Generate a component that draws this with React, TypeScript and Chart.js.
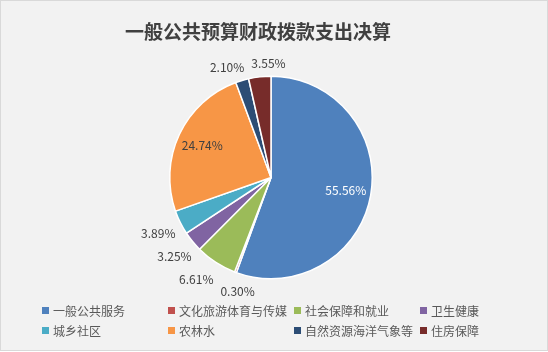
import React, { useEffect, useRef } from "react";
import { Chart, registerables } from "chart.js";

Chart.register(...registerables);

const TITLE = "一般公共预算财政拨款支出决算";
const CATEGORIES = [
  "一般公共服务",
  "文化旅游体育与传媒",
  "社会保障和就业",
  "卫生健康",
  "城乡社区",
  "农林水",
  "自然资源海洋气象等",
  "住房保障",
];
const VALUES = [55.56, 0.3, 6.61, 3.25, 3.89, 24.74, 2.1, 3.55];
const COLORS = [
  "#4F81BD",
  "#C0504D",
  "#9BBB59",
  "#8064A2",
  "#4BACC6",
  "#F79646",
  "#2C4D75",
  "#772C2A",
];
const INSIDE = [true, false, false, false, false, true, false, false];

const FONT = '"Noto Sans CJK SC", "Noto Sans", sans-serif';

const overlayPlugin = {
  id: "overlay",
  afterDatasetsDraw(chart: any) {
    const ctx = chart.ctx;
    const meta = chart.getDatasetMeta(0);
    ctx.save();
    ctx.font = `12px ${FONT}`;
    ctx.textBaseline = "middle";
    ctx.textAlign = "center";
    const total = VALUES.reduce((a, b) => a + b, 0);
    const labels: any[] = [];
    meta.data.forEach((arc: any, i: number) => {
      const { x, y, startAngle, endAngle, outerRadius } = arc.getProps(
        ["x", "y", "startAngle", "endAngle", "outerRadius"],
        true
      );
      const mid = (startAngle + endAngle) / 2;
      const c = Math.cos(mid);
      const s = Math.sin(mid);
      const text = ((VALUES[i] / total) * 100).toFixed(2) + "%";
      const w = ctx.measureText(text).width;
      let lx, ly, color;
      if (INSIDE[i]) {
        lx = x + c * outerRadius * 0.75;
        ly = y + s * outerRadius * 0.75;
        color = i === 0 ? "#FFFFFF" : "#404040";
      } else {
        const d = outerRadius + 7 + (w / 2) * Math.abs(c) + 5 * Math.abs(s);
        lx = x + c * d;
        ly = y + s * d;
        color = "#404040";
      }
      labels.push({ text, x: lx, y: ly, w, color, inside: INSIDE[i] });
    });
    // resolve overlaps between outside labels by pushing apart horizontally
    const out = labels.filter((l) => !l.inside);
    for (let a = 0; a < out.length; a++) {
      for (let b = a + 1; b < out.length; b++) {
        const A = out[a];
        const B = out[b];
        if (Math.abs(A.y - B.y) < 14) {
          const need = (A.w + B.w) / 2 + 7;
          const dx = B.x - A.x;
          if (Math.abs(dx) < need) {
            const shift = (need - Math.abs(dx)) / 2;
            const sign = dx >= 0 ? 1 : -1;
            A.x -= sign * shift;
            B.x += sign * shift;
            A.y += 3;
          }
        }
      }
    }
    labels.forEach((l) => {
      ctx.fillStyle = l.color;
      ctx.fillText(l.text, l.x, l.y);
    });

    // title
    ctx.font = `bold 19px ${FONT}`;
    ctx.fillStyle = "#404040";
    ctx.textAlign = "center";
    ctx.fillText(TITLE, 258, 32);

    // legend
    ctx.font = `12px ${FONT}`;
    ctx.textAlign = "left";
    const colX = [42, 168, 294, 420];
    const rowY = [311, 331];
    CATEGORIES.forEach((label, i) => {
      const cx = colX[i % 4];
      const cy = rowY[Math.floor(i / 4)];
      ctx.fillStyle = COLORS[i];
      ctx.fillRect(cx, cy - 4, 7, 7);
      ctx.fillStyle = "#595959";
      ctx.fillText(label, cx + 11, cy);
    });
    ctx.restore();
  },
};

export default function App() {
  const ref = useRef<HTMLCanvasElement>(null);
  useEffect(() => {
    document.body.style.margin = "0";
    const chart = new Chart(ref.current!, {
      type: "pie",
      data: {
        labels: CATEGORIES,
        datasets: [
          {
            data: VALUES,
            backgroundColor: COLORS,
            borderColor: "#FFFFFF",
            borderWidth: 1.5,
          },
        ],
      },
      options: {
        responsive: false,
        animation: false,
        devicePixelRatio: 1,
        layout: { padding: { top: 75, bottom: 72, left: 169, right: 175 } },
        plugins: {
          legend: { display: false },
          title: { display: false },
          tooltip: { enabled: false },
        },
      },
      plugins: [overlayPlugin],
    });
    return () => chart.destroy();
  }, []);
  return (
    <div style={{ position: "absolute", left: 0, top: 0, width: 548, height: 352 }}>
      <div
        style={{
          position: "absolute",
          left: 0,
          top: 0,
          width: 548,
          height: 351,
          boxSizing: "border-box",
          background: "#F2F2F2",
          border: "1px solid #D9D9D9",
        }}
      />
      <canvas
        ref={ref}
        width={548}
        height={352}
        style={{ position: "absolute", left: 0, top: 0, width: 548, height: 352 }}
      />
    </div>
  );
}
